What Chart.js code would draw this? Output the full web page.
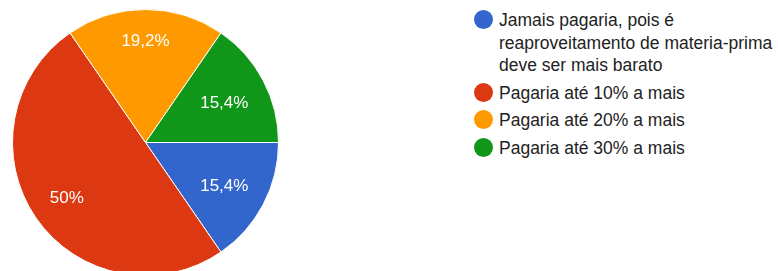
<!DOCTYPE html>
<html>
<head>
<meta charset="utf-8">
<script src="https://cdn.jsdelivr.net/npm/chart.js@4/dist/chart.umd.min.js"></script>
<style>
  html, body { margin: 0; padding: 0; background: #fff; overflow: hidden; }
  body { width: 778px; height: 271px; position: relative; font-family: "Liberation Sans", Arial, sans-serif; }
  #pieBox { position: absolute; left: 12px; top: 9px; width: 267px; height: 267px; }
  #legend { position: absolute; left: 474px; top: 9px; list-style: none; margin: 0; padding: 0; color: #222; font-size: 17.5px; }
  #legend li { position: relative; padding-left: 25px; line-height: 22.5px; margin-bottom: 5px; }
  #legend .dot { position: absolute; left: 0; top: 1px; width: 19px; height: 19px; border-radius: 50%; }
</style>
</head>
<body>
<div id="pieBox"><canvas id="pie"></canvas></div>
<ul id="legend"></ul>
<script>
// answer options, in the form's order
const categories = [
    ['Jamais pagaria, pois é', 'reaproveitamento de materia-prima', 'deve ser mais barato'],
    'Pagaria até 10% a mais',
    'Pagaria até 20% a mais',
    'Pagaria até 30% a mais'
];
const percentages = [15.4, 50, 19.2, 15.4];
const sliceLabels = ['15,4%', '50%', '19,2%', '15,4%'];
const colors = ['#3366cc', '#dc3912', '#ff9900', '#109618'];

// white percentage text inside each slice, pushed out until the far corner of the text hits ~0.86 r
const sliceText = {
    id: 'sliceText',
    afterDatasetsDraw(chart) {
        const ctx = chart.ctx;
        const meta = chart.getDatasetMeta(0);
        const fontSize = 17;
        ctx.save();
        ctx.fillStyle = '#fff';
        ctx.font = fontSize + 'px "Liberation Sans", Arial, sans-serif';
        ctx.textAlign = 'center';
        ctx.textBaseline = 'middle';
        meta.data.forEach((arc, i) => {
            const p = arc.getProps(['x', 'y', 'startAngle', 'endAngle', 'outerRadius'], true);
            const mid = (p.startAngle + p.endAngle) / 2;
            const c = Math.cos(mid), s = Math.sin(mid);
            const w = ctx.measureText(sliceLabels[i]).width / 2;
            const h = fontSize / 2;
            const R = p.outerRadius * 0.86;
            const b = Math.abs(c) * w + Math.abs(s) * h;
            const d = -b + Math.sqrt(b * b - (w * w + h * h - R * R));
            ctx.fillText(sliceLabels[i], p.x + c * d, p.y + s * d + 2);
        });
        ctx.restore();
    }
};

document.addEventListener('DOMContentLoaded', function() {
    new Chart(document.getElementById('pie'), {
        type: 'pie',
        data: {
            labels: categories,
            datasets: [{
                data: percentages,
                backgroundColor: colors,
                borderColor: '#fff',
                borderWidth: 1
            }]
        },
        options: {
            responsive: true,
            maintainAspectRatio: false,
            animation: false,
            rotation: 90,
            layout: { padding: 0 },
            plugins: {
                legend: { display: false },
                tooltip: { enabled: false }
            }
        },
        plugins: [sliceText]
    });

    // legend built from the same arrays
    const legend = document.getElementById('legend');
    categories.forEach((cat, i) => {
        const li = document.createElement('li');
        const dot = document.createElement('span');
        dot.className = 'dot';
        dot.style.background = colors[i];
        li.appendChild(dot);
        const lines = Array.isArray(cat) ? cat : [cat];
        lines.forEach((line, j) => {
            if (j > 0) li.appendChild(document.createElement('br'));
            li.appendChild(document.createTextNode(line));
        });
        legend.appendChild(li);
    });
});
</script>
</body>
</html>
